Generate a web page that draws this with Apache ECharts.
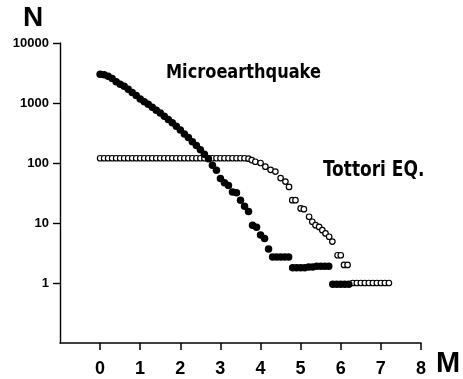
<!DOCTYPE html>
<html>
<head>
<meta charset="utf-8">
<script src="https://cdn.jsdelivr.net/npm/echarts@6/dist/echarts.min.js"></script>
<style>
  html, body { margin: 0; padding: 0; background: #fff; }
  #chart { width: 463px; height: 379px; }
</style>
</head>
<body>
<div id="chart"></div>
<script>
// Cumulative number N of events with magnitude >= M
const microMag = [
  0.0, 0.1, 0.2, 0.3, 0.4, 0.5, 0.6, 0.7, 0.8, 0.9,
  1.0, 1.1, 1.2, 1.3, 1.4, 1.5, 1.6, 1.7, 1.8, 1.9,
  2.0, 2.1, 2.2, 2.3, 2.4, 2.5, 2.6, 2.7, 2.8, 2.9,
  3.0, 3.1, 3.2, 3.3, 3.4, 3.5, 3.6, 3.7, 3.8, 3.9,
  4.0, 4.1, 4.2, 4.3, 4.4, 4.5, 4.6, 4.7, 4.8, 4.9,
  5.0, 5.1, 5.2, 5.3, 5.4, 5.5, 5.6, 5.7, 5.8, 5.9,
  6.0, 6.1, 6.2
];
const microCount = [
  3000, 2950, 2800, 2550, 2250, 2050, 1900, 1700, 1500, 1330,
  1170, 1050, 950, 850, 760, 680, 600, 530, 470, 410,
  355, 305, 265, 225, 195, 166, 140, 118, 92, 76,
  55, 47, 42, 33, 32, 24, 19, 15.5, 9.2, 8.5,
  6.3, 5.5, 3.7, 2.7, 2.7, 2.7, 2.7, 2.7, 1.8, 1.8,
  1.8, 1.8, 1.85, 1.85, 1.9, 1.9, 1.9, 1.9, 0.95, 0.95,
  0.95, 0.95, 0.95
];

const tottoriMag = [
  0.0, 0.1, 0.2, 0.3, 0.4, 0.5, 0.6, 0.7, 0.8, 0.9,
  1.0, 1.1, 1.2, 1.3, 1.4, 1.5, 1.6, 1.7, 1.8, 1.9,
  2.0, 2.1, 2.2, 2.3, 2.4, 2.5, 2.6, 2.7, 2.8, 2.9,
  3.0, 3.1, 3.2, 3.3, 3.4, 3.5, 3.6, 3.7, 3.78, 3.87,
  4.0, 4.12, 4.25, 4.37, 4.5, 4.62, 4.71, 4.79, 4.87, 5.0,
  5.08, 5.21, 5.29, 5.37, 5.46, 5.54, 5.62, 5.71, 5.79, 5.92,
  6.0, 6.08, 6.17, 6.3, 6.4, 6.5, 6.6, 6.7, 6.8, 6.9,
  7.0, 7.1, 7.2
];
const tottoriCount = [
  120, 120, 120, 120, 120, 120, 120, 120, 120, 120,
  120, 120, 120, 120, 120, 120, 120, 120, 120, 120,
  120, 120, 120, 120, 120, 120, 120, 120, 120, 120,
  120, 120, 120, 120, 120, 120, 120, 118, 112, 105,
  100, 87, 77, 72, 56, 49, 40, 24, 24, 17.5,
  17, 12.7, 10.5, 9.2, 8.6, 7.6, 6.7, 5.9, 4.9, 2.9,
  2.9, 2.0, 2.0, 1, 1, 1, 1, 1, 1, 1,
  1, 1, 1
];

const magTicks = [0, 1, 2, 3, 4, 5, 6, 7, 8];
const countTicks = [1, 10, 100, 1000, 10000];

const condensed = '"DejaVu Sans Condensed", "DejaVu Sans", sans-serif';
const sans = '"Liberation Sans", Arial, sans-serif';
const ink = '#000';

const zip = (xs, ys) => xs.map((x, i) => [x, ys[i]]);

const chart = echarts.init(document.getElementById('chart'), null, { renderer: 'canvas' });

chart.setOption({
  animation: false,
  backgroundColor: '#fff',
  grid: [
    // plotting area: M from -1 to 8, N from 0.1 to 10000
    { left: 60, right: 42, top: 43, bottom: 36 },
    // area spanned by the labelled ticks (M 0..8, N 1..10000)
    { left: 100, right: 42, top: 43, bottom: 96 }
  ],
  xAxis: [
    {
      gridIndex: 0, type: 'value', min: -1, max: 8,
      axisLine: { show: true, onZero: false, lineStyle: { color: ink, width: 1.5 } },
      axisTick: { show: false }, axisLabel: { show: false }, splitLine: { show: false }
    },
    {
      gridIndex: 1, type: 'value', min: magTicks[0], max: magTicks[magTicks.length - 1], interval: 1,
      offset: 60,
      axisLine: { show: false, onZero: false },
      axisTick: { show: true, length: 7, lineStyle: { color: ink, width: 1.5 } },
      axisLabel: {
        show: true, margin: 17, color: ink, fontFamily: sans, fontWeight: 'bold', fontSize: 18,
        formatter: v => String(v)
      },
      splitLine: { show: false }
    }
  ],
  yAxis: [
    {
      gridIndex: 0, type: 'log', logBase: 10, min: 0.1, max: 10000,
      axisLine: { show: true, onZero: false, lineStyle: { color: ink, width: 1.4 } },
      axisTick: { show: false }, axisLabel: { show: false }, splitLine: { show: false }
    },
    {
      gridIndex: 1, type: 'log', logBase: 10,
      min: countTicks[0], max: countTicks[countTicks.length - 1], splitNumber: 4,
      offset: 40,
      axisLine: { show: false, onZero: false },
      axisTick: { show: true, length: 7, lineStyle: { color: ink, width: 1.4 } },
      axisLabel: {
        show: true, margin: 11, color: ink, fontFamily: sans, fontWeight: 'bold', fontSize: 13,
        formatter: v => String(Math.round(v))
      },
      splitLine: { show: false }
    }
  ],
  series: [
    {
      name: 'Tottori EQ.', type: 'scatter', xAxisIndex: 0, yAxisIndex: 0,
      data: zip(tottoriMag, tottoriCount),
      symbol: 'circle', symbolSize: 5.5,
      itemStyle: { color: '#fff', borderColor: ink, borderWidth: 1.2, opacity: 1 },
      z: 2
    },
    {
      name: 'Microearthquake', type: 'scatter', xAxisIndex: 0, yAxisIndex: 0,
      data: zip(microMag, microCount),
      symbol: 'circle', symbolSize: 7.5,
      itemStyle: { color: ink, opacity: 1 },
      z: 3
    }
  ],
  graphic: [
    { type: 'text', x: 33, y: 18, style: { text: 'N', fill: ink, font: 'bold 28px ' + sans, align: 'center', verticalAlign: 'middle' } },
    { type: 'text', x: 448, y: 364, style: { text: 'M', fill: ink, font: 'bold 29px ' + sans, align: 'center', verticalAlign: 'middle' } },
    { type: 'text', x: 166, y: 73, scaleX: 0.9, style: { text: 'Microearthquake', fill: ink, font: 'bold 20px ' + condensed, align: 'left', verticalAlign: 'middle' } },
    { type: 'text', x: 323, y: 171, scaleX: 0.9, style: { text: 'Tottori EQ.', fill: ink, font: 'bold 21px ' + condensed, align: 'left', verticalAlign: 'middle' } }
  ]
});
</script>
</body>
</html>
